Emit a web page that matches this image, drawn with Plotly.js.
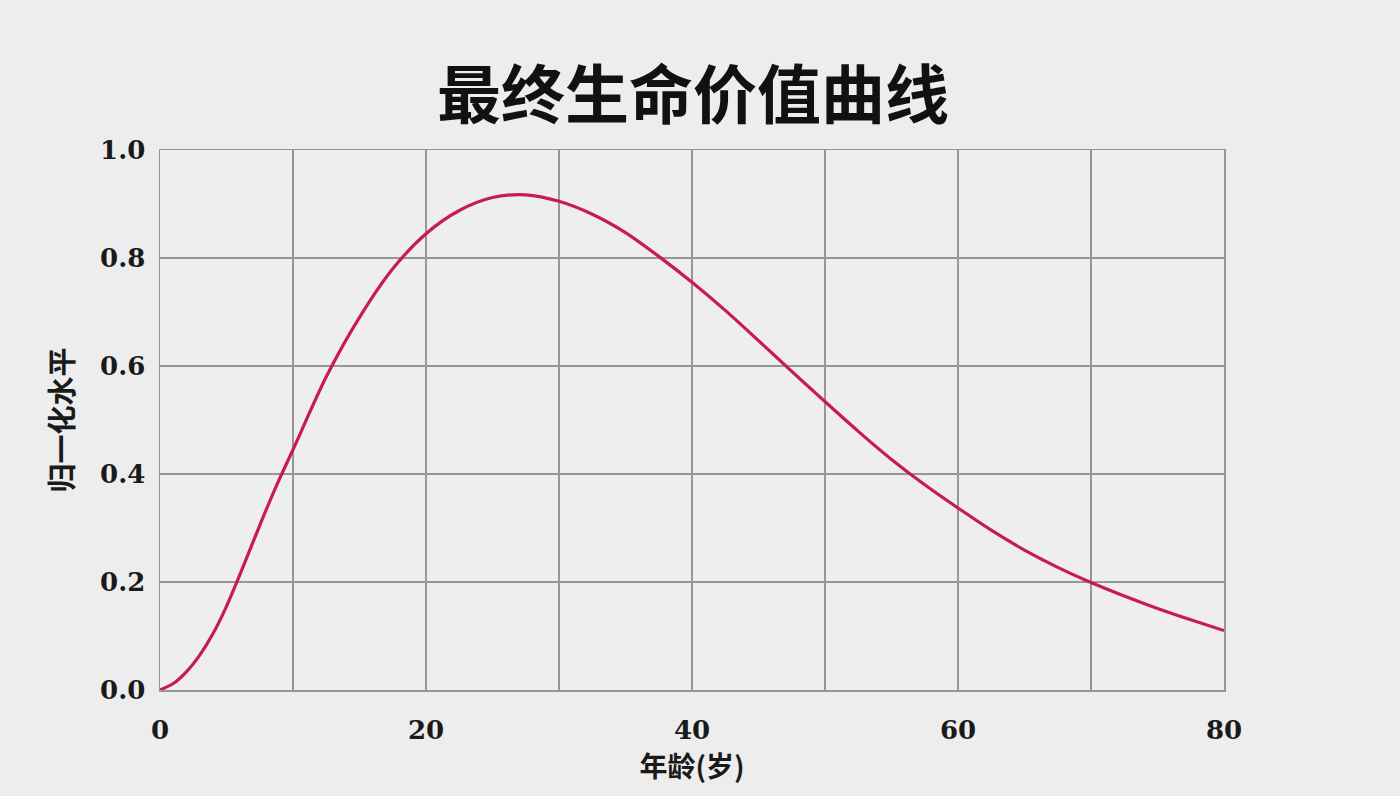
<!DOCTYPE html>
<html>
<head>
<meta charset="utf-8">
<script src="https://cdn.plot.ly/plotly-3.0.1.min.js"></script>
<style>html,body{margin:0;padding:0;background:#ededed;}#chart{width:1400px;height:796px;}</style>
</head>
<body>
<div id="chart"></div>
<script>
const ages = [0, 1, 2, 3, 4, 5, 6, 7.5, 8.75, 10, 12.5, 15, 17.5, 20, 22.5, 25, 27.5, 30, 32.5, 35, 37.5, 40, 42.5, 45, 47.5, 50, 52.5, 55, 57.5, 60, 62.5, 65, 67.5, 70, 72.5, 75, 77.5, 80];
const levels = [0, 0.012, 0.034, 0.065, 0.105, 0.155, 0.213, 0.305, 0.378, 0.445, 0.58, 0.69, 0.78, 0.845, 0.888, 0.912, 0.917, 0.905, 0.881, 0.847, 0.803, 0.755, 0.703, 0.647, 0.59, 0.534, 0.479, 0.427, 0.38, 0.337, 0.296, 0.259, 0.227, 0.199, 0.174, 0.151, 0.13, 0.11];
const xTickVals = [0, 10, 20, 30, 40, 50, 60, 70, 80];
const xTickText = ['0', '', '20', '', '40', '', '60', '', '80'];
const yTicks = [0, 0.2, 0.4, 0.6, 0.8, 1.0];
const yTickText = ['0.0', '0.2', '0.4', '0.6', '0.8', '1.0'];
const titleText = '最终生命价值曲线';
const xTitle = '年龄(岁)';
const yTitle = '归一化水平';

const trace = {
  x: ages, y: levels, type: 'scatter', mode: 'lines',
  line: {color: '#c81c4c', width: 3.2, shape: 'spline', smoothing: 0.8},
  hoverinfo: 'skip'
};
const tickFont = {family: 'DejaVu Serif', size: 26, color: '#1a1a1a', weight: 'bold'};
const layout = {
  width: 1400, height: 796,
  paper_bgcolor: '#ededed', plot_bgcolor: '#eeeeee',
  margin: {l: 160, r: 176, t: 150, b: 106},
  showlegend: false,
  title: {text: titleText, x: 0.495, xanchor: 'center', y: 0.88, yanchor: 'middle',
          font: {family: 'Noto Sans CJK SC', size: 64, color: '#111', weight: 'bold'}},
  xaxis: {
    range: [0, 80], tickvals: xTickVals, ticktext: xTickText,
    showgrid: true, gridcolor: '#969696', gridwidth: 1.5,
    zeroline: false, showline: true, linecolor: '#969696', linewidth: 1.5, mirror: true,
    ticks: '', ticklabelstandoff: 16, tickfont: tickFont,
    title: {text: xTitle, standoff: 6, font: {family: 'Noto Sans CJK SC', size: 28, color: '#1a1a1a', weight: 'bold'}},
    fixedrange: true
  },
  yaxis: {
    range: [0, 1], tickvals: yTicks, ticktext: yTickText,
    showgrid: true, gridcolor: '#969696', gridwidth: 1.5,
    zeroline: false, showline: true, linecolor: '#969696', linewidth: 1.5, mirror: true,
    ticks: '', ticklabelstandoff: 8, tickfont: tickFont,
    title: {text: yTitle, standoff: 18, font: {family: 'Noto Sans CJK SC', size: 29, color: '#1a1a1a', weight: 'bold'}},
    fixedrange: true
  }
};
Plotly.newPlot('chart', [trace], layout, {displayModeBar: false, staticPlot: true});
</script>
</body>
</html>
